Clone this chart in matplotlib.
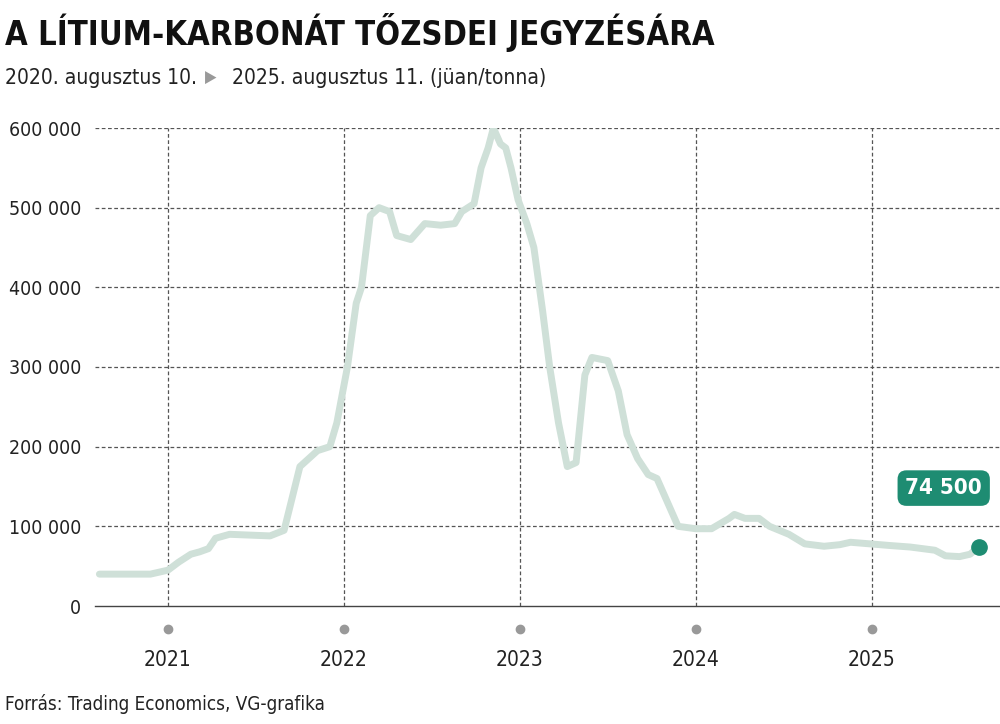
import matplotlib
matplotlib.use("Agg")
import matplotlib.pyplot as plt

plt.rcParams["font.family"] = "DejaVu Sans"
plt.rcParams["font.stretch"] = "condensed"

years = [2020.61, 2020.90, 2021.0, 2021.06, 2021.13, 2021.18, 2021.23, 2021.27, 2021.35, 2021.58,
         2021.66, 2021.75, 2021.85, 2021.92, 2021.96, 2022.02, 2022.07, 2022.10, 2022.15, 2022.20,
         2022.26, 2022.30, 2022.38, 2022.42, 2022.46, 2022.55, 2022.63, 2022.67, 2022.74, 2022.78,
         2022.82, 2022.85, 2022.89, 2022.92, 2022.95, 2022.99, 2023.04, 2023.08, 2023.13, 2023.17,
         2023.22, 2023.27, 2023.32, 2023.37, 2023.41, 2023.50, 2023.56, 2023.61, 2023.67, 2023.73,
         2023.78, 2023.84, 2023.90, 2024.0, 2024.09, 2024.19, 2024.22, 2024.28, 2024.36, 2024.42,
         2024.53, 2024.62, 2024.73, 2024.82, 2024.88, 2024.99, 2025.10, 2025.22, 2025.36, 2025.42,
         2025.50, 2025.56, 2025.61]
prices = [40000, 40000, 45000, 55000, 65000, 68000, 72000, 85000, 90000, 88000,
          95000, 175000, 195000, 200000, 230000, 300000, 380000, 400000, 490000, 500000,
          495000, 465000, 460000, 470000, 480000, 478000, 480000, 495000, 505000, 550000,
          575000, 600000, 580000, 575000, 550000, 510000, 480000, 450000, 370000, 300000,
          230000, 175000, 180000, 290000, 312000, 308000, 270000, 215000, 185000, 165000,
          160000, 130000, 100000, 97000, 97000, 110000, 115000, 110000, 110000, 100000,
          90000, 78000, 75000, 77000, 80000, 78000, 76000, 74000, 70000, 63000,
          62000, 65000, 74500]
yticks = [0, 100000, 200000, 300000, 400000, 500000, 600000]
ytick_labels = ["0", "100 000", "200 000", "300 000", "400 000", "500 000", "600 000"]
xticks = [2021, 2022, 2023, 2024, 2025]
last_label = "74 500"

fig = plt.figure(figsize=(10, 7.24), dpi=100)
ax = fig.add_axes([0.095, 1 - 606 / 724, 0.905, (606 - 128) / 724])
ax.set_xlim(2020.585, 2025.73)
ax.set_ylim(0, 600000)
for s in ax.spines.values():
    s.set_visible(False)
for y in yticks[1:]:
    ax.axhline(y, color="#555555", lw=0.9, ls=(0, (3, 2)), zorder=1)
ax.axhline(0, color="#444444", lw=1.0, zorder=1, clip_on=False)
for x in xticks:
    ax.axvline(x, color="#555555", lw=0.9, ls=(0, (3, 2)), zorder=1)
ax.set_yticks(yticks)
ax.set_yticklabels(ytick_labels, fontsize=14, color="#222222")
ax.tick_params(axis="y", length=0, pad=10)
ax.set_xticks([])
ax.plot(years, prices, color="#cfe0d8", lw=5, solid_capstyle="round", zorder=2)
ax.plot(years[-1], prices[-1], "o", color="#1e8c72", ms=11, zorder=3, clip_on=False)
ax.text(years[-1] - 0.2, 148000, last_label, fontsize=16, fontweight="bold", color="white",
        ha="center", va="center", zorder=4,
        bbox=dict(boxstyle="round,pad=0.35,rounding_size=0.4", fc="#1e8c72", ec="none"))
for x in xticks:
    ax.plot(x, -29000, "o", color="#999999", ms=6, clip_on=False)
    ax.text(x, -68000, str(x), fontsize=15, ha="center", va="center", color="#222222")

fig.text(0.005, 1 - 32 / 724, "A LÍTIUM-KARBONÁT TŐZSDEI JEGYZÉSÁRA", fontsize=23.5,
         fontweight="bold", va="center", color="#111111")
fig.text(0.005, 1 - 78 / 724, "2020. augusztus 10.", fontsize=15, va="center", color="#222222")
fig.text(0.205, 1 - 78 / 724, "▶", fontsize=12, va="center", color="#999999")
fig.text(0.232, 1 - 78 / 724, "2025. augusztus 11. (jüan/tonna)", fontsize=15, va="center",
         color="#222222")
fig.text(0.005, 1 - 704 / 724, "Forrás: Trading Economics, VG-grafika", fontsize=13.5,
         va="center", color="#222222")
fig.savefig("out.png", dpi=100)
